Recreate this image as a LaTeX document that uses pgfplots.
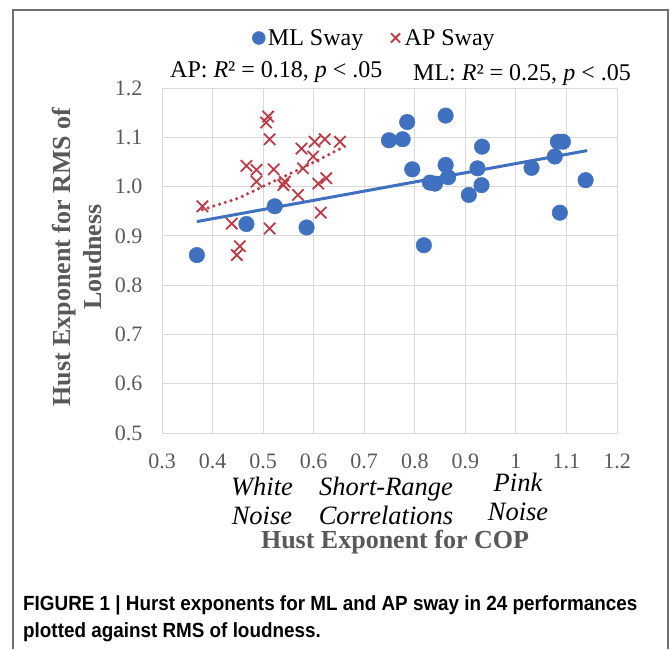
\documentclass[border=0pt]{standalone}
\usepackage{pgfplots}
\pgfplotsset{compat=1.18}
\usepackage{fontspec}
\setmainfont{Liberation Serif}
\newfontfamily\capfont[FakeStretch=0.92]{Liberation Sans}
\definecolor{mlblue}{RGB}{64,112,192}
\definecolor{apred}{RGB}{190,58,70}
\definecolor{gridgray}{RGB}{217,217,217}
\definecolor{ticktext}{RGB}{89,89,89}
\definecolor{framegray}{RGB}{112,112,112}
\pgfplotstableread{
x y
0.369 0.861
0.467 0.924
0.523 0.960
0.586 0.917
0.749 1.094
0.776 1.096
0.785 1.131
0.795 1.035
0.861 1.144
0.861 1.044
0.866 1.019
0.830 1.008
0.840 1.006
0.818 0.881
0.907 0.983
0.932 1.003
0.924 1.037
0.933 1.081
1.031 1.038
1.077 1.061
1.083 1.091
1.093 1.091
1.087 0.947
1.138 1.013
}\mldata
\pgfplotstableread{
x y
0.380 0.960
0.438 0.925
0.454 0.879
0.448 0.861
0.467 1.042
0.487 1.034
0.487 1.010
0.510 1.142
0.506 1.130
0.513 1.096
0.521 1.035
0.513 0.915
0.543 1.010
0.540 1.003
0.569 0.983
0.576 1.077
0.579 1.037
0.599 1.061
0.602 1.091
0.622 1.096
0.652 1.091
0.609 1.006
0.625 1.017
0.614 0.947
}\apdata
\begin{document}
\begin{tikzpicture}[x=1pt,y=1pt]
\path[use as bounding box] (0pt,0pt) rectangle (671pt,649pt);
\begin{axis}[
  at={(162pt,216pt)}, anchor=south west,
  scale only axis, width=455pt, height=345pt,
  xmin=0.3, xmax=1.2, ymin=0.5, ymax=1.2,
  xtick={0.3,0.4,0.5,0.6,0.7,0.8,0.9,1,1.1,1.2},
  xticklabels={0.3,0.4,0.5,0.6,0.7,0.8,0.9,1,1.1,1.2},
  ytick={0.5,0.6,0.7,0.8,0.9,1.0,1.1,1.2},
  yticklabels={0.5,0.6,0.7,0.8,0.9,1.0,1.1,1.2},
  grid=major,
  major grid style={gridgray, line width=1pt},
  axis line style={gridgray, line width=1pt},
  major tick length=0pt,
  tick style={draw=none},
  ticklabel style={font=\fontsize{22}{22}\selectfont, text=ticktext},
  xticklabel style={yshift=-17pt},
  yticklabel style={xshift=-16pt},
  legend columns=2,
  legend style={at={(0.198,1.145)}, anchor=west, draw=none, fill=none,
    font=\fontsize{24}{24}\selectfont, inner sep=0pt,
    nodes={inner sep=2pt},
    /tikz/every even column/.append style={column sep=24pt}},
  legend image code/.code={\path (0pt,0pt) (13pt,0pt); \draw[#1] plot coordinates {(6pt,0pt)};},
  legend image post style={mark size=6.5pt},
  legend cell align=left,
  clip=false,
]
\addplot[only marks, mark=*, mark size=7.8pt, mark options={draw=mlblue, fill=mlblue}] table[x=x,y=y] {\mldata};
\addlegendentry{ML Sway}
\addplot[only marks, mark=x, mark size=8pt, mark options={draw=apred, line width=1.8pt}] table[x=x,y=y] {\apdata};
\addlegendentry{AP Sway}
\addplot[forget plot, mlblue, line width=3pt] coordinates {(0.369,0.929) (1.141,1.073)};
\addplot[forget plot, apred, line width=3.5pt, dash pattern=on 0pt off 6pt, line cap=round] coordinates {(0.380,0.953) (0.450,0.976) (0.520,1.010) (0.590,1.044) (0.655,1.078)};
\end{axis}
\draw[framegray, line width=2pt] (13pt,0pt) -- (13pt,639pt);
\draw[framegray, line width=2pt] (12pt,639pt) -- (669pt,639pt);
\draw[framegray, line width=2pt] (668pt,639pt) -- (668pt,0pt);
\node[anchor=base west, font=\fontsize{24}{24}\selectfont, inner sep=0pt] at (170pt,571pt) {AP: \textit{R}² = 0.18, \textit{p} < .05};
\node[anchor=base west, font=\fontsize{24}{24}\selectfont, inner sep=0pt] at (413pt,568pt) {ML: \textit{R}² = 0.25, \textit{p} < .05};
\node[align=center, font=\fontsize{26.5}{29}\selectfont\itshape, inner sep=0pt] at (262pt,148.5pt) {White\\Noise};
\node[align=center, font=\fontsize{26.5}{29}\selectfont\itshape, inner sep=0pt] at (386pt,148.5pt) {Short-Range\\Correlations};
\node[align=center, font=\fontsize{26.5}{29}\selectfont\itshape, inner sep=0pt] at (518pt,152pt) {Pink\\Noise};
\node[font=\fontsize{26}{26}\selectfont\bfseries, text=ticktext, inner sep=0pt] at (395pt,107pt) {Hust Exponent for COP};
\node[rotate=90, align=center, font=\fontsize{26}{31}\selectfont\bfseries, text=ticktext, inner sep=0pt] at (77.5pt,392pt) {Hust Exponent for RMS of\\Loudness};
\node[anchor=base west, align=left, font=\capfont\bfseries\fontsize{20.5}{27}\selectfont, inner sep=0pt] at (23pt,12pt) {FIGURE 1 | Hurst exponents for ML and AP sway in 24 performances\\plotted against RMS of loudness.};
\end{tikzpicture}
\end{document}
